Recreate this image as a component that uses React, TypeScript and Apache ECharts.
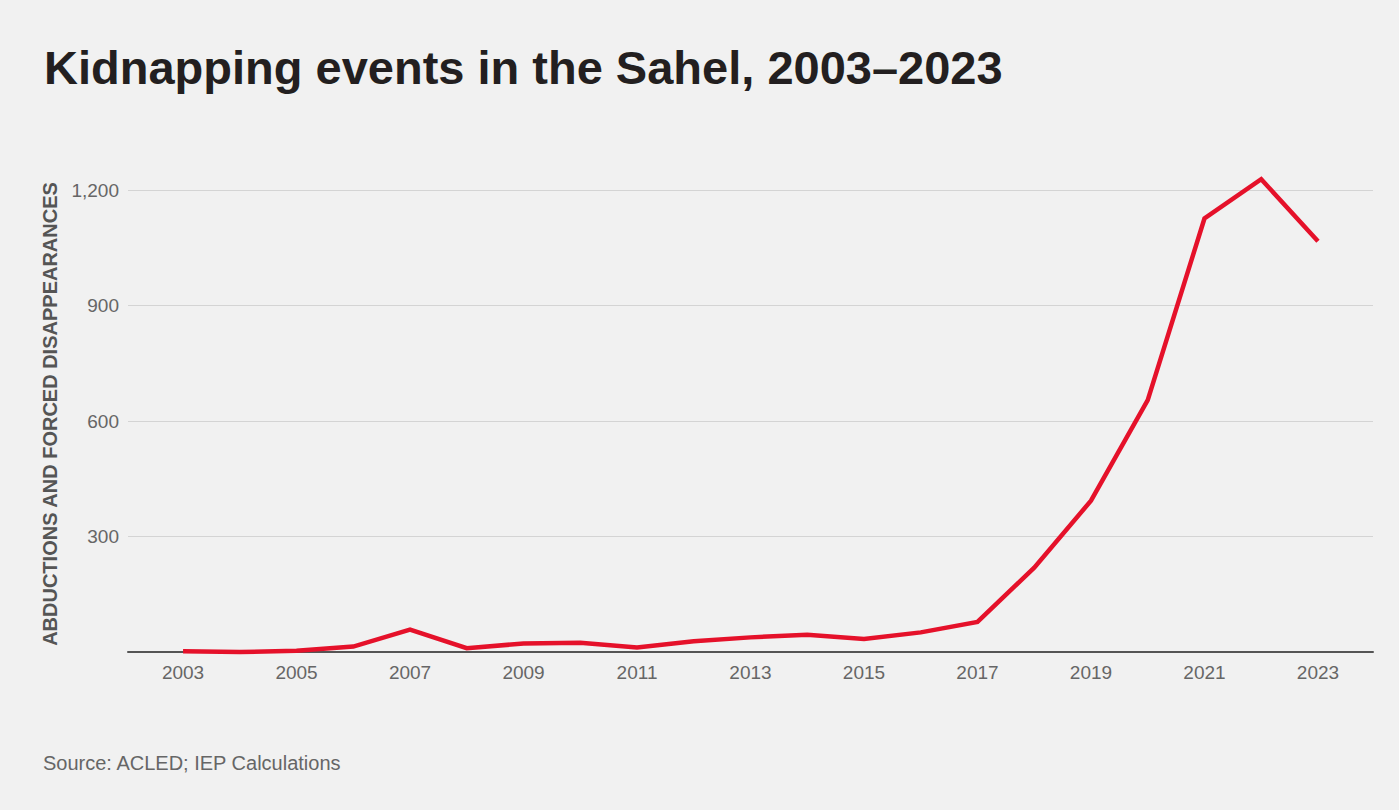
import React, { useEffect, useRef } from "react";
import * as echarts from "echarts";

const years = [2003, 2004, 2005, 2006, 2007, 2008, 2009, 2010, 2011, 2012, 2013, 2014, 2015, 2016, 2017, 2018, 2019, 2020, 2021, 2022, 2023];
const kidnappings = [2, 0, 3, 14, 58, 10, 22, 24, 12, 28, 38, 45, 34, 51, 78, 219, 393, 654, 1126, 1228, 1067];
const xTickLabels = [2003, 2005, 2007, 2009, 2011, 2013, 2015, 2017, 2019, 2021, 2023];
const yTicks = [0, 300, 600, 900, 1200];

const title = "Kidnapping events in the Sahel, 2003\u20132023";
const yTitle = "ABDUCTIONS AND FORCED DISAPPEARANCES";
const source = "Source: ACLED; IEP Calculations";

const FONT = "'Liberation Sans', Arial, Helvetica, sans-serif";

export default function App() {
  const ref = useRef<HTMLDivElement>(null);
  useEffect(() => {
    document.body.style.margin = "0";
    const chart = echarts.init(ref.current!, null, { renderer: "svg" });
    chart.setOption({
      animation: false,
      backgroundColor: "#f1f1f1",
      textStyle: { fontFamily: FONT },
      grid: { left: 128, right: 26, top: 190, bottom: 158, containLabel: false },
      xAxis: {
        type: "value",
        min: 2002.03,
        max: 2023.97,
        axisLine: { show: true, onZero: false, lineStyle: { color: "#555555", width: 2 } },
        axisTick: { show: false },
        splitLine: { show: false },
        axisLabel: {
          customValues: xTickLabels,
          formatter: (v: number) => String(v),
          fontSize: 19,
          color: "#666666",
          margin: 11,
          fontFamily: FONT,
        },
      },
      yAxis: {
        type: "value",
        min: yTicks[0],
        max: yTicks[yTicks.length - 1],
        interval: 300,
        axisLine: { show: false },
        axisTick: { show: false },
        splitLine: { show: true, lineStyle: { color: "#d4d4d4", width: 1 } },
        axisLabel: {
          formatter: (v: number) => (v === 0 ? "" : v.toLocaleString("en-US")),
          fontSize: 19,
          color: "#666666",
          margin: 9,
          fontFamily: FONT,
        },
      },
      series: [
        {
          type: "line",
          data: years.map((y, i) => [y, kidnappings[i]]),
          symbol: "none",
          clip: false,
          lineStyle: { color: "#e5112a", width: 4.5, join: "miter" },
          z: 5,
        },
      ],
      graphic: [
        {
          type: "text",
          left: 44,
          top: 44,
          style: {
            text: title,
            font: `bold 47px ${FONT}`,
            fill: "#231f20",
          },
        },
        {
          type: "text",
          x: 50,
          y: 414,
          rotation: Math.PI / 2,
          style: {
            text: yTitle,
            font: `bold 20px ${FONT}`,
            fill: "#555555",
            align: "center",
            verticalAlign: "middle",
          },
        },
        {
          type: "text",
          left: 43,
          top: 753,
          style: {
            text: source,
            font: `20px ${FONT}`,
            fill: "#666666",
          },
        },
      ],
    });
    return () => chart.dispose();
  }, []);
  return <div ref={ref} style={{ width: 1399, height: 810 }} />;
}
